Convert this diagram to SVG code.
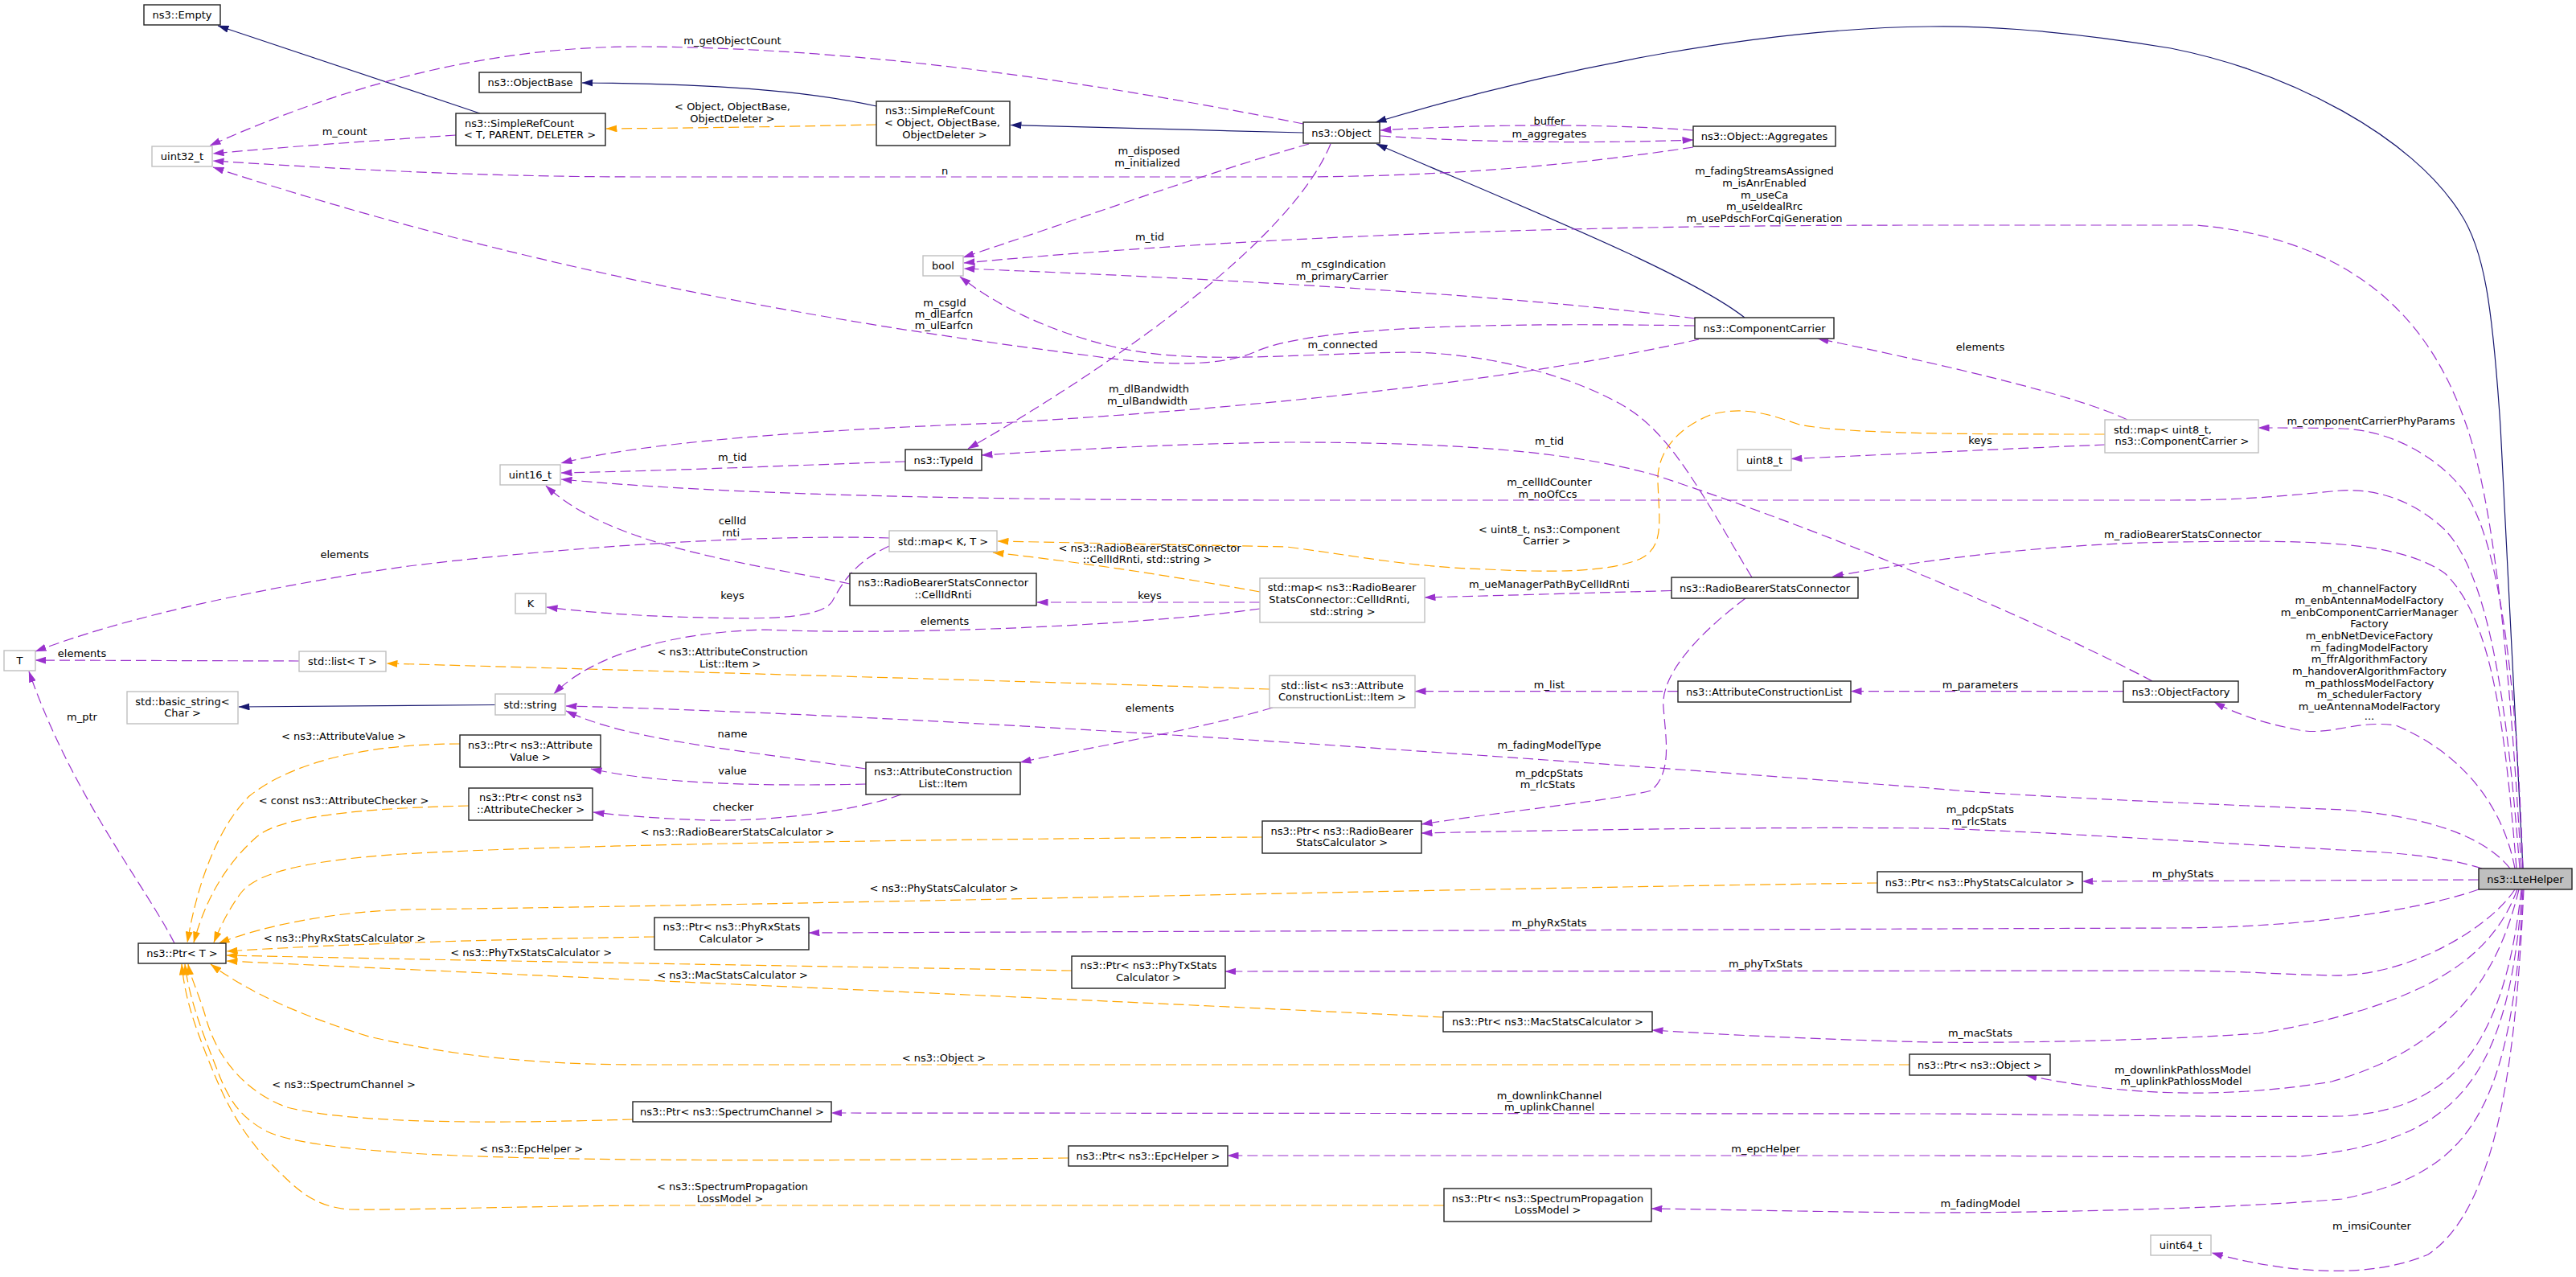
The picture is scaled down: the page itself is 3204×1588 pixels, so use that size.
<svg xmlns="http://www.w3.org/2000/svg" width="3204" height="1588" viewBox="0 0 3204 1588">
<defs>
<style>
.n rect{fill:#fff;stroke:#222;stroke-width:1.4}
.n.u rect{stroke:#bfbfbf}
.n.h rect{fill:#bfbfbf;stroke:#222}
text{font-family:"DejaVu Sans",sans-serif;font-size:13px;text-anchor:middle;fill:#000}
#edges path{fill:none;stroke-width:1.2}
#edges .p{stroke:#9a32cd;stroke-dasharray:13,6;marker-end:url(#ap)}
#edges .o{stroke:#ffa500;stroke-dasharray:13,6;marker-end:url(#ao)}
#edges .v{stroke:#191970;marker-end:url(#av)}
</style>
<marker id="ap" viewBox="0 0 14 9" refX="13.5" refY="4.5" markerWidth="14" markerHeight="9" markerUnits="userSpaceOnUse" orient="auto"><path d="M0,0 L14,4.5 L0,9 z" fill="#9a32cd"/></marker>
<marker id="ao" viewBox="0 0 14 9" refX="13.5" refY="4.5" markerWidth="14" markerHeight="9" markerUnits="userSpaceOnUse" orient="auto"><path d="M0,0 L14,4.5 L0,9 z" fill="#ffa500"/></marker>
<marker id="av" viewBox="0 0 14 9" refX="13.5" refY="4.5" markerWidth="14" markerHeight="9" markerUnits="userSpaceOnUse" orient="auto"><path d="M0,0 L14,4.5 L0,9 z" fill="#191970"/></marker>
</defs>
<rect x="0" y="0" width="3204" height="1588" fill="#fff"/>

<g id="edges">
<path class="v" d="M597,141 L271,32"/>
<path class="v" d="M1090,132 C1000,112 880,104 724,103"/>
<path class="v" d="M1621,165 C1500,162 1350,158 1257,155.5"/>
<path class="v" d="M3138,1080 L3110,530 C3100,380 3090,310 3060,265 C3000,170 2850,90 2700,60 C2550,35 2450,32 2400,33 C2200,35 1950,80 1711,152"/>
<path class="v" d="M2170,395 C2100,340 1900,260 1712,179"/>
<path class="v" d="M616,876.5 L297,879"/>

<path class="o" d="M1090,155 C1000,157 880,159 754,160"/>
<path class="o" d="M2618,540 C2450,540 2300,540 2238,528 C2200,515 2170,505 2130,515 C2090,530 2060,560 2062,600 C2064,650 2070,680 2040,695 C2000,712 1930,712 1850,708 C1750,705 1680,690 1600,680 L1241,673"/>
<path class="o" d="M1567,736 C1450,715 1350,700 1235,687"/>
<path class="o" d="M1579,857 C1200,845 800,834 481,825"/>
<path class="o" d="M572,925 C450,925 360,950 310,990 C270,1030 245,1100 233,1172"/>
<path class="o" d="M583,1002 C450,1005 350,1015 320,1040 C280,1075 255,1120 241,1172"/>
<path class="o" d="M1570,1041 C1200,1043 700,1050 500,1062 C380,1070 320,1085 300,1110 C285,1130 275,1150 266,1172"/>
<path class="o" d="M2335,1098 C1800,1105 1000,1125 510,1131 C420,1133 330,1150 272,1173"/>
<path class="o" d="M814,1165 C600,1168 400,1175 282,1183"/>
<path class="o" d="M1333,1207 C1100,1203 600,1195 282,1188"/>
<path class="o" d="M1795,1265 C1400,1245 700,1215 282,1195"/>
<path class="o" d="M2375,1324 L800,1324 C650,1324 550,1310 459,1289 C380,1265 310,1235 262,1199"/>
<path class="o" d="M787,1392 C650,1396 450,1400 357,1377 C310,1360 270,1320 255,1262 C245,1230 237,1215 234,1199"/>
<path class="o" d="M1329,1440 C1100,1443 700,1446 510,1434 C420,1428 360,1420 332,1407 C300,1390 285,1370 270,1330 C250,1280 235,1240 230,1199"/>
<path class="o" d="M1796,1499 L800,1499 C650,1500 500,1505 434,1504 C390,1500 370,1480 340,1450 C300,1410 280,1370 260,1320 C240,1270 230,1240 226,1199"/>

<path class="p" d="M1621,154 C1400,110 1100,60 800,58 C600,57 420,110 261,181"/>
<path class="p" d="M567,168 C450,176 350,183 265,191"/>
<path class="p" d="M2106,183 C1960,205 1800,220 1600,220 L800,220 C600,220 420,210 265,200"/>
<path class="p" d="M2106,162 C2000,154 1850,154 1717,162"/>
<path class="p" d="M1717,169 C1850,178 2000,178 2106,174"/>
<path class="p" d="M1628,179 C1500,215 1320,280 1198,320"/>
<path class="p" d="M1655,179 C1610,290 1410,440 1204,558"/>
<path class="p" d="M3136,1080 C3120,800 3100,620 3067,527 C3030,420 2950,300 2733,280 L2400,280 C2000,280 1600,290 1199,327"/>
<path class="p" d="M2108,396 C1900,370 1600,350 1199,334"/>
<path class="p" d="M2108,405 C1800,400 1620,410 1560,438 C1520,455 1450,456 1361,443 C1100,410 700,350 265,208"/>
<path class="p" d="M2113,422 C1900,470 1600,505 1244,526 C1000,535 800,550 698,576"/>
<path class="p" d="M2179,718 C2120,620 2080,540 2020,505 C1960,470 1860,440 1753,438 C1600,440 1480,455 1380,430 C1300,410 1240,380 1194,344"/>
<path class="p" d="M1126,574 C1000,578 850,585 698,588"/>
<path class="p" d="M3134,1080 C3120,900 3100,720 3041,659 C3000,620 2950,605 2900,611 C2830,618 2780,622 2700,622 L1600,622 C1200,622 900,615 698,596"/>
<path class="p" d="M1057,726 C930,700 760,680 679,604"/>
<path class="p" d="M1106,669 C950,664 700,680 500,705 C300,735 150,770 44,810"/>
<path class="p" d="M1106,679 C1060,700 1045,730 1035,748 C1020,770 950,770 876,768 C780,766 720,760 680,755"/>
<path class="p" d="M1567,749 L1290,749"/>
<path class="p" d="M1567,757 C1400,780 1100,790 953,783 C850,785 740,810 689,863"/>
<path class="p" d="M1583,880 C1480,910 1350,930 1269,948"/>
<path class="p" d="M1077,956 C900,930 780,920 704,884"/>
<path class="p" d="M3122,1080 C3090,1040 3020,1015 2913,1007 C2750,1000 2500,990 2400,980 C2000,950 1200,890 704,878"/>
<path class="p" d="M1077,975 C950,978 820,975 735,956"/>
<path class="p" d="M1121,988 C1060,1010 950,1022 880,1020 C820,1018 770,1014 738,1010"/>
<path class="p" d="M2087,859.6 L1760,859.6"/>
<path class="p" d="M2641,859.6 L2302,859.6"/>
<path class="p" d="M2677,847 C2550,780 2300,670 2059,591 C1950,560 1800,550 1600,550 C1450,552 1320,560 1221,566"/>
<path class="p" d="M2079,734.5 C1950,738 1850,741 1772,743"/>
<path class="p" d="M3130,1080 C3115,900 3100,770 3041,713 C2980,670 2860,672 2708,674 C2550,676 2400,695 2279,717"/>
<path class="p" d="M2171,744 C2110,790 2065,840 2069,880 C2072,920 2080,960 2054,983 C2010,995 1900,1005 1768,1025"/>
<path class="p" d="M3087,1080 C3040,1065 2980,1060 2913,1057 C2700,1045 2500,1032 2400,1030 C2200,1028 1950,1032 1768,1036"/>
<path class="p" d="M2618,553 C2500,558 2350,565 2228,570.6"/>
<path class="p" d="M2646,522 C2580,490 2400,450 2261,421"/>
<path class="p" d="M3138,1080 C3130,850 3110,680 3067,614 C3040,575 2980,535 2913,533 C2870,532 2840,532 2809,532"/>
<path class="p" d="M3128,1080 C3115,1010 3070,940 2980,902 C2930,895 2900,915 2860,908 C2820,900 2785,890 2754,873"/>
<path class="p" d="M3083,1094 L2590,1096"/>
<path class="p" d="M3083,1106 C3000,1135 2850,1154 2700,1154 L1006,1160"/>
<path class="p" d="M3128,1106 C3100,1150 3000,1215 2900,1213 C2820,1211 2780,1207 2700,1207 L1524,1208"/>
<path class="p" d="M3131,1106 C3100,1190 3020,1250 2810,1285 C2650,1296 2450,1297 2400,1296 C2250,1292 2150,1287 2055,1281"/>
<path class="p" d="M3133,1106 C3110,1200 3060,1300 2900,1345 C2780,1365 2650,1365 2520,1337"/>
<path class="p" d="M3136,1106 C3115,1300 3050,1380 2913,1388 C2800,1390 2500,1385 2400,1385 L1034,1384"/>
<path class="p" d="M3137,1106 C3120,1350 3050,1420 2861,1438 C2700,1440 2500,1437 2400,1437 L1527,1437"/>
<path class="p" d="M3138,1106 C3125,1400 3060,1460 2913,1491 C2750,1505 2500,1508 2400,1508 C2250,1507 2150,1504 2054,1503"/>
<path class="p" d="M3139,1106 C3130,1300 3110,1500 3020,1560 C2950,1590 2850,1585 2751,1558"/>
<path class="p" d="M217,1173 C180,1100 90,990 36,835"/>
<path class="p" d="M372,822 L44,821"/>
</g>

<g id="edge-labels">
<text x="428.6" y="168">m_count</text>
<text x="911" y="55">m_getObjectCount</text>
<text x="911" y="137">&lt; Object, ObjectBase,</text>
<text x="911" y="152">ObjectDeleter &gt;</text>
<text x="1429" y="192">m_disposed</text>
<text x="1427" y="207">m_initialized</text>
<text x="1175" y="216.5">n</text>
<text x="1430" y="298.5">m_tid</text>
<text x="1175" y="380.5">m_csgId</text>
<text x="1174" y="395">m_dlEarfcn</text>
<text x="1174" y="409">m_ulEarfcn</text>
<text x="1429" y="488">m_dlBandwidth</text>
<text x="1427" y="503">m_ulBandwidth</text>
<text x="1927" y="154.5">buffer</text>
<text x="1927" y="171">m_aggregates</text>
<text x="2194.5" y="217">m_fadingStreamsAssigned</text>
<text x="2194.5" y="232">m_isAnrEnabled</text>
<text x="2194.5" y="247">m_useCa</text>
<text x="2194.5" y="261">m_useIdealRrc</text>
<text x="2194.5" y="276">m_usePdschForCqiGeneration</text>
<text x="1671" y="333">m_csgIndication</text>
<text x="1669" y="348">m_primaryCarrier</text>
<text x="1670" y="433">m_connected</text>
<text x="2463" y="436">elements</text>
<text x="2949" y="528">m_componentCarrierPhyParams</text>
<text x="2463" y="551.5">keys</text>
<text x="1927" y="553">m_tid</text>
<text x="1927" y="604">m_cellIdCounter</text>
<text x="1925" y="619">m_noOfCcs</text>
<text x="1927" y="663">&lt; uint8_t, ns3::Component</text>
<text x="1924" y="677">Carrier &gt;</text>
<text x="2715" y="668.5">m_radioBearerStatsConnector</text>
<text x="1927" y="731">m_ueManagerPathByCellIdRnti</text>
<text x="2947" y="736">m_channelFactory</text>
<text x="2947" y="751">m_enbAntennaModelFactory</text>
<text x="2947" y="765.5">m_enbComponentCarrierManager</text>
<text x="2947" y="780">Factory</text>
<text x="2947" y="795">m_enbNetDeviceFactory</text>
<text x="2947" y="809.5">m_fadingModelFactory</text>
<text x="2947" y="824">m_ffrAlgorithmFactory</text>
<text x="2947" y="839">m_handoverAlgorithmFactory</text>
<text x="2947" y="853.5">m_pathlossModelFactory</text>
<text x="2947" y="868">m_schedulerFactory</text>
<text x="2947" y="883">m_ueAntennaModelFactory</text>
<text x="2947" y="895">...</text>
<text x="2463" y="856">m_parameters</text>
<text x="1927" y="856">m_list</text>
<text x="1927" y="931">m_fadingModelType</text>
<text x="1927" y="965.5">m_pdcpStats</text>
<text x="1925" y="980">m_rlcStats</text>
<text x="2463" y="1011">m_pdcpStats</text>
<text x="2461.5" y="1025.5">m_rlcStats</text>
<text x="911" y="572.5">m_tid</text>
<text x="911" y="652">cellId</text>
<text x="909" y="667">rnti</text>
<text x="911" y="745">keys</text>
<text x="1430" y="685.5">&lt; ns3::RadioBearerStatsConnector</text>
<text x="1427" y="700">::CellIdRnti, std::string &gt;</text>
<text x="1430" y="745">keys</text>
<text x="1175" y="777">elements</text>
<text x="911" y="815">&lt; ns3::AttributeConstruction</text>
<text x="908" y="829.5">List::Item &gt;</text>
<text x="1430" y="885">elements</text>
<text x="911" y="917">name</text>
<text x="911" y="963">value</text>
<text x="912" y="1008">checker</text>
<text x="917" y="1039">&lt; ns3::RadioBearerStatsCalculator &gt;</text>
<text x="428.6" y="693.5">elements</text>
<text x="102" y="817">elements</text>
<text x="102" y="895.5">m_ptr</text>
<text x="427.6" y="920">&lt; ns3::AttributeValue &gt;</text>
<text x="427.6" y="999.5">&lt; const ns3::AttributeChecker &gt;</text>
<text x="1174" y="1109">&lt; ns3::PhyStatsCalculator &gt;</text>
<text x="428.6" y="1171">&lt; ns3::PhyRxStatsCalculator &gt;</text>
<text x="660.7" y="1189">&lt; ns3::PhyTxStatsCalculator &gt;</text>
<text x="911" y="1217">&lt; ns3::MacStatsCalculator &gt;</text>
<text x="1174" y="1320">&lt; ns3::Object &gt;</text>
<text x="427.6" y="1353">&lt; ns3::SpectrumChannel &gt;</text>
<text x="660.7" y="1433">&lt; ns3::EpcHelper &gt;</text>
<text x="911" y="1480">&lt; ns3::SpectrumPropagation</text>
<text x="908" y="1495">LossModel &gt;</text>
<text x="2715" y="1090.5">m_phyStats</text>
<text x="1927" y="1151.5">m_phyRxStats</text>
<text x="2196" y="1203">m_phyTxStats</text>
<text x="2463" y="1289">m_macStats</text>
<text x="2715" y="1335">m_downlinkPathlossModel</text>
<text x="2713" y="1349">m_uplinkPathlossModel</text>
<text x="1927" y="1367">m_downlinkChannel</text>
<text x="1927" y="1381">m_uplinkChannel</text>
<text x="2196" y="1433">m_epcHelper</text>
<text x="2463" y="1501">m_fadingModel</text>
<text x="2950" y="1528.5">m_imsiCounter</text>
</g>

<g id="node-empty" class="n"><rect x="179" y="6" width="95" height="25"/><text x="226.5" y="23">ns3::Empty</text></g>
<g id="node-objectbase" class="n"><rect x="596" y="90" width="127" height="25"/><text x="659.5" y="107">ns3::ObjectBase</text></g>
<g id="node-simplerefcount-t" class="n"><rect x="567" y="141" width="186" height="40"/><text x="646" y="157.5">ns3::SimpleRefCount</text><text x="659" y="172">&lt; T, PARENT, DELETER &gt;</text></g>
<g id="node-uint32" class="n u"><rect x="189" y="182" width="75" height="25"/><text x="226.5" y="199">uint32_t</text></g>
<g id="node-simplerefcount-object" class="n"><rect x="1090" y="126" width="166" height="55"/><text x="1169" y="142">ns3::SimpleRefCount</text><text x="1172" y="157">&lt; Object, ObjectBase,</text><text x="1175" y="171.5">ObjectDeleter &gt;</text></g>
<g id="node-object" class="n"><rect x="1621" y="152" width="95" height="26"/><text x="1668.5" y="169.5">ns3::Object</text></g>
<g id="node-aggregates" class="n"><rect x="2106" y="157" width="177" height="25"/><text x="2194.5" y="174">ns3::Object::Aggregates</text></g>
<g id="node-bool" class="n u"><rect x="1148" y="318" width="50" height="25"/><text x="1173" y="335">bool</text></g>
<g id="node-componentcarrier" class="n"><rect x="2108" y="395" width="173" height="26"/><text x="2194.5" y="412.5">ns3::ComponentCarrier</text></g>
<g id="node-map-uint8-cc" class="n u"><rect x="2618" y="522" width="191" height="41"/><text x="2690" y="538.5">std::map&lt; uint8_t,</text><text x="2714" y="553">ns3::ComponentCarrier &gt;</text></g>
<g id="node-uint8" class="n u"><rect x="2161" y="559" width="67" height="26"/><text x="2194.5" y="576.5">uint8_t</text></g>
<g id="node-uint16" class="n u"><rect x="622" y="578" width="75" height="25"/><text x="659.5" y="595">uint16_t</text></g>
<g id="node-typeid" class="n"><rect x="1126" y="559" width="95" height="26"/><text x="1173.5" y="576.5">ns3::TypeId</text></g>
<g id="node-map-k-t" class="n u"><rect x="1106" y="660" width="134" height="26"/><text x="1173" y="677.5">std::map&lt; K, T &gt;</text></g>
<g id="node-k" class="n u"><rect x="641" y="738" width="38" height="25"/><text x="660" y="755">K</text></g>
<g id="node-cellidrnti" class="n"><rect x="1057" y="713" width="232" height="40"/><text x="1173" y="729">ns3::RadioBearerStatsConnector</text><text x="1173" y="744">::CellIdRnti</text></g>
<g id="node-map-cellidrnti" class="n u"><rect x="1567" y="719" width="205" height="55"/><text x="1669" y="735">std::map&lt; ns3::RadioBearer</text><text x="1666" y="750">StatsConnector::CellIdRnti,</text><text x="1670" y="765">std::string &gt;</text></g>
<g id="node-rbsconnector" class="n"><rect x="2079" y="718" width="232" height="26"/><text x="2195" y="735.5">ns3::RadioBearerStatsConnector</text></g>
<g id="node-t" class="n u"><rect x="5" y="809" width="39" height="25"/><text x="24.5" y="826">T</text></g>
<g id="node-list-t" class="n u"><rect x="372" y="810" width="108" height="25"/><text x="426" y="827">std::list&lt; T &gt;</text></g>
<g id="node-list-item" class="n u"><rect x="1579" y="840" width="181" height="40"/><text x="1669.5" y="856.5">std::list&lt; ns3::Attribute</text><text x="1669.5" y="871">ConstructionList::Item &gt;</text></g>
<g id="node-acl" class="n"><rect x="2087" y="847" width="215" height="26"/><text x="2194.5" y="864.5">ns3::AttributeConstructionList</text></g>
<g id="node-objectfactory" class="n"><rect x="2641" y="847" width="143" height="26"/><text x="2712.5" y="864.5">ns3::ObjectFactory</text></g>
<g id="node-basic-string" class="n u"><rect x="158" y="860" width="138" height="40"/><text x="227" y="876.5">std::basic_string&lt;</text><text x="227" y="891">Char &gt;</text></g>
<g id="node-string" class="n u"><rect x="616" y="863" width="87" height="26"/><text x="659.5" y="880.5">std::string</text></g>
<g id="node-ptr-attributevalue" class="n"><rect x="572" y="914" width="175" height="40"/><text x="659.5" y="931">ns3::Ptr&lt; ns3::Attribute</text><text x="659.5" y="945.5">Value &gt;</text></g>
<g id="node-ptr-attributechecker" class="n"><rect x="583" y="980" width="154" height="40"/><text x="660" y="996">ns3::Ptr&lt; const ns3</text><text x="660" y="1011">::AttributeChecker &gt;</text></g>
<g id="node-item" class="n"><rect x="1077" y="948" width="192" height="40"/><text x="1173" y="964">ns3::AttributeConstruction</text><text x="1173" y="979">List::Item</text></g>
<g id="node-ptr-rbscalc" class="n"><rect x="1570" y="1021" width="198" height="40"/><text x="1669" y="1037.5">ns3::Ptr&lt; ns3::RadioBearer</text><text x="1669" y="1052">StatsCalculator &gt;</text></g>
<g id="node-ptr-phystats" class="n"><rect x="2335" y="1084" width="255" height="26"/><text x="2462.5" y="1101.5">ns3::Ptr&lt; ns3::PhyStatsCalculator &gt;</text></g>
<g id="node-ltehelper" class="n h"><rect x="3083" y="1080" width="116" height="26"/><text x="3141" y="1097.5">ns3::LteHelper</text></g>
<g id="node-ptr-t" class="n"><rect x="172" y="1173" width="109" height="25"/><text x="226.5" y="1190">ns3::Ptr&lt; T &gt;</text></g>
<g id="node-ptr-phyrx" class="n"><rect x="814" y="1141" width="192" height="40"/><text x="910" y="1157">ns3::Ptr&lt; ns3::PhyRxStats</text><text x="910" y="1172">Calculator &gt;</text></g>
<g id="node-ptr-phytx" class="n"><rect x="1333" y="1189" width="191" height="40"/><text x="1428.5" y="1205">ns3::Ptr&lt; ns3::PhyTxStats</text><text x="1428.5" y="1220">Calculator &gt;</text></g>
<g id="node-ptr-mac" class="n"><rect x="1795" y="1258" width="260" height="25"/><text x="1925" y="1275">ns3::Ptr&lt; ns3::MacStatsCalculator &gt;</text></g>
<g id="node-ptr-object" class="n"><rect x="2375" y="1311" width="175" height="26"/><text x="2462.5" y="1328.5">ns3::Ptr&lt; ns3::Object &gt;</text></g>
<g id="node-ptr-spectrumchannel" class="n"><rect x="787" y="1370" width="247" height="25"/><text x="910.5" y="1387">ns3::Ptr&lt; ns3::SpectrumChannel &gt;</text></g>
<g id="node-ptr-epchelper" class="n"><rect x="1329" y="1425" width="198" height="25"/><text x="1428" y="1442">ns3::Ptr&lt; ns3::EpcHelper &gt;</text></g>
<g id="node-ptr-splm" class="n"><rect x="1796" y="1478" width="258" height="41"/><text x="1925" y="1494.5">ns3::Ptr&lt; ns3::SpectrumPropagation</text><text x="1925" y="1509">LossModel &gt;</text></g>
<g id="node-uint64" class="n u"><rect x="2675" y="1536" width="75" height="25"/><text x="2712.5" y="1553">uint64_t</text></g>
</svg>
